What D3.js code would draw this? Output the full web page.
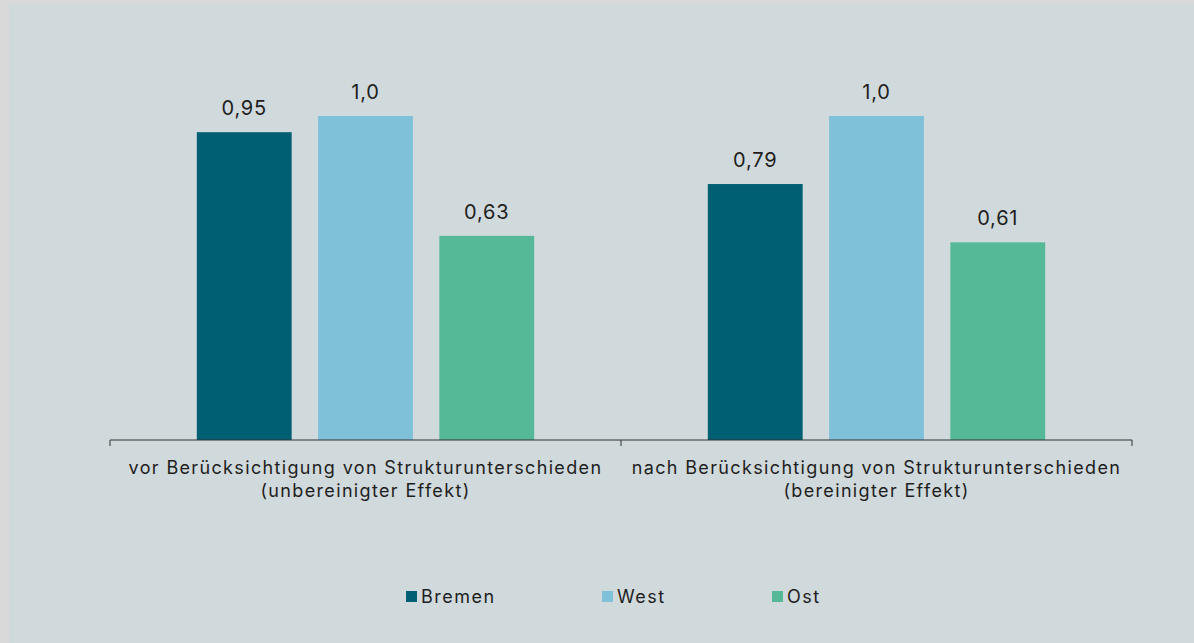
<!DOCTYPE html>
<html>
<head>
<meta charset="utf-8">
<script src="https://cdn.jsdelivr.net/npm/d3@7"></script>
<style>
  body { margin: 0; background: #d9d9d9; }
  svg { display: block; font-family: Inter, "Noto Sans", sans-serif; }
</style>
</head>
<body>
<div id="chart"></div>
<script>
// data
const groups = ["vor", "nach"];
const groupLabels = [
  ["vor Berücksichtigung von Strukturunterschieden", "(unbereinigter Effekt)"],
  ["nach Berücksichtigung von Strukturunterschieden", "(bereinigter Effekt)"]
];
const series = ["Bremen", "West", "Ost"];
const bremen = [0.95, 0.79];
const west = [1.0, 1.0];
const ost = [0.63, 0.61];
const valueLabels = [["0,95", "1,0", "0,63"], ["0,79", "1,0", "0,61"]];
const colors = ["#005f72", "#80c1da", "#55b998"];

const W = 1194, H = 643;
const svg = d3.select("#chart").append("svg")
  .attr("width", W).attr("height", H);

// panel
svg.append("rect")
  .attr("x", 9).attr("y", 4)
  .attr("width", W - 9).attr("height", H - 4)
  .attr("fill", "#d0d9db");

const values = [bremen, west, ost];

const x0 = d3.scaleBand().domain(groups).range([110, 1132]).padding(0);
const x1 = d3.scaleBand().domain(series).range([0, x0.bandwidth()])
  .paddingInner(0.218).paddingOuter(0.716);
const y = d3.scaleLinear().domain([0, 1]).range([440, 116]);

const rows = [];
groups.forEach((g, gi) => {
  series.forEach((s, si) => {
    rows.push({ g, gi, s, si, v: values[si][gi], label: valueLabels[gi][si] });
  });
});

const g = svg.append("g");

g.selectAll("rect.bar")
  .data(rows)
  .enter().append("rect")
  .attr("class", "bar")
  .attr("x", d => x0(d.g) + x1(d.s))
  .attr("y", d => y(d.v))
  .attr("width", x1.bandwidth())
  .attr("height", d => y(0) - y(d.v))
  .attr("fill", d => colors[d.si]);

g.selectAll("text.val")
  .data(rows)
  .enter().append("text")
  .attr("class", "val")
  .attr("x", d => x0(d.g) + x1(d.s) + x1.bandwidth() / 2)
  .attr("y", d => y(d.v) - 17)
  .attr("text-anchor", "middle")
  .attr("font-size", 20)
  .attr("letter-spacing", 0.8)
  .attr("fill", "#1e1e1e")
  .text(d => d.label);

// x axis
const axis = g.append("g")
  .attr("transform", `translate(0,${y(0)})`)
  .call(d3.axisBottom(x0).tickSize(0).tickFormat(""));
axis.select(".domain").attr("stroke", "#333").attr("d", "M110,6V0H1132V6");
axis.selectAll(".tick").remove();
axis.append("line")
  .attr("x1", 621).attr("x2", 621).attr("y1", 0).attr("y2", 6)
  .attr("stroke", "#333");

groups.forEach((gr, gi) => {
  const t = g.append("text")
    .attr("x", x0(gr) + x0.bandwidth() / 2)
    .attr("y", 474)
    .attr("text-anchor", "middle")
    .attr("font-size", 18)
    .attr("letter-spacing", 1.35)
    .attr("fill", "#1e1e1e");
  groupLabels[gi].forEach((line, li) => {
    t.append("tspan")
      .attr("x", x0(gr) + x0.bandwidth() / 2)
      .attr("dy", li === 0 ? 0 : 23)
      .text(line);
  });
});

// legend
const legendX = [406, 602, 772];
const legend = svg.append("g").selectAll("g")
  .data(series)
  .enter().append("g")
  .attr("transform", (d, i) => `translate(${legendX[i]},596)`);
legend.append("rect")
  .attr("x", 0).attr("y", -5)
  .attr("width", 11).attr("height", 11)
  .attr("fill", (d, i) => colors[i]);
legend.append("text")
  .attr("x", 15).attr("y", 7)
  .attr("font-size", 18)
  .attr("letter-spacing", 1.5)
  .attr("fill", "#1e1e1e")
  .text(d => d);
</script>
</body>
</html>
